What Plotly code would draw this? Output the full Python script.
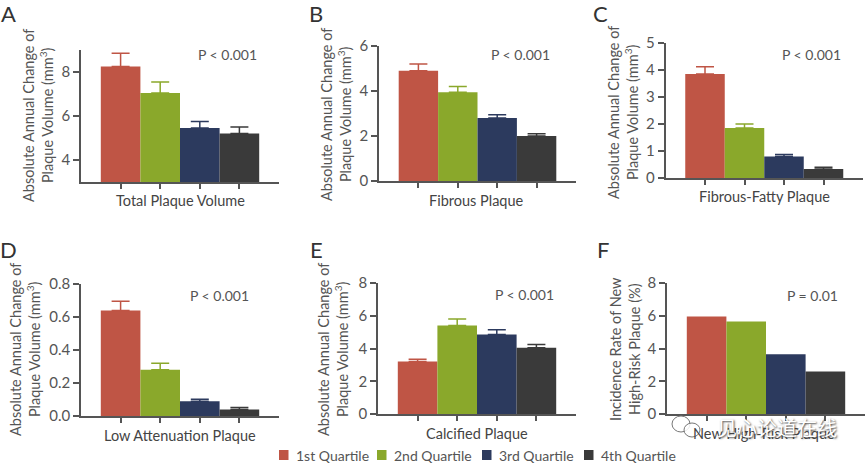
import plotly.graph_objects as go

W = 866
H = 464

quartiles = ["1st Quartile", "2nd Quartile", "3rd Quartile", "4th Quartile"]
colors = ["#BF5545", "#8AA82B", "#2C3A5E", "#3A3A3A"]

letters = ["A", "B", "C", "D", "E", "F"]
x_titles = ["Total Plaque Volume", "Fibrous Plaque", "Fibrous-Fatty Plaque",
            "Low Attenuation Plaque", "Calcified Plaque", "New High-Risk Plaque"]
abs_title = "Absolute Annual Change of<br>Plaque Volume (mm<sup>3</sup>)"
y_titles = [abs_title, abs_title, abs_title, abs_title, abs_title,
            "Incidence Rate of New<br>High-Risk Plaque (%)"]
p_texts = ["P < 0.001", "P < 0.001", "P < 0.001", "P < 0.001", "P < 0.001", "P = 0.01"]

values_a = [8.25, 7.05, 5.45, 5.2]
values_b = [4.9, 3.95, 2.8, 2.0]
values_c = [3.85, 1.85, 0.8, 0.33]
values_d = [0.64, 0.28, 0.09, 0.04]
values_e = [3.2, 5.4, 4.85, 4.05]
values_f = [5.95, 5.65, 3.65, 2.6]
values = [values_a, values_b, values_c, values_d, values_e, values_f]

err_a = [0.6, 0.5, 0.3, 0.3]
err_b = [0.3, 0.25, 0.15, 0.1]
err_c = [0.27, 0.15, 0.07, 0.07]
err_d = [0.055, 0.04, 0.012, 0.012]
err_e = [0.15, 0.4, 0.3, 0.2]
errs = [err_a, err_b, err_c, err_d, err_e, None]

y_ranges = [[3, 9], [0, 6], [0, 5], [0, 0.8], [0, 8], [0, 8]]
y_ticks = [[4, 6, 8], [0, 2, 4, 6], [0, 1, 2, 3, 4, 5],
           [0, 0.2, 0.4, 0.6, 0.8], [0, 2, 4, 6, 8], [0, 2, 4, 6, 8]]
y_ticklabels = [["4", "6", "8"], ["0", "2", "4", "6"], ["0", "1", "2", "3", "4", "5"],
                ["0.0", "0.2", "0.4", "0.6", "0.8"], ["0", "2", "4", "6", "8"], ["0", "2", "4", "6", "8"]]

# plot boxes in pixels: left, right, top, bottom
boxes = [(81, 279, 50, 182), (379, 576, 46, 181), (665.5, 863, 43, 178),
         (81, 279, 284, 416), (378, 576, 283, 414), (667, 865, 283, 414)]
p_pos = [(227, 55), (520, 55), (811, 55), (219, 295), (524, 294), (812, 295)]
title_x = [38, 336, 623, 25, 333, 625]
title_mid = [116, 115, 113, 350, 350, 349]
xtitle_pos = [(180, 200), (477, 200), (764, 197), (180, 435), (477, 433), (764, 433)]
letter_pos = [(8, 14), (316, 14), (600, 14), (8, 249), (316, 249), (603, 249)]
legend_x = [279, 377, 482, 584]
legend_y = 455

TXT = "#555555"
AX = "#555555"
FONT = "Lato"

fig = go.Figure()
annots = []
shapes = []


def px_x(v):
    return v / W


def px_y(v):
    return 1 - v / H


for i in range(6):
    n = "" if i == 0 else str(i + 1)
    l, r, t, b = boxes[i]
    for j in range(4):
        err = None
        if errs[i] is not None:
            err = dict(type="data", symmetric=False, array=[errs[i][j]], arrayminus=[0],
                       color=colors[j], thickness=1.5, width=9)
        fig.add_trace(go.Bar(x=[j], y=[values[i][j]], width=1, name=quartiles[j],
                             marker=dict(color=colors[j], line=dict(width=0)),
                             error_y=err, showlegend=False,
                             xaxis="x" + n, yaxis="y" + n))
    fig.update_layout({
        "xaxis" + n: dict(domain=[l / W, r / W], range=[-1, 4.0], anchor="y" + n,
                          tickvals=[0, 1, 2, 3], showticklabels=False, ticks="outside",
                          ticklen=5, tickwidth=1.5, tickcolor=AX, showgrid=False,
                          zeroline=False, showline=True, linecolor=AX, linewidth=1.5),
        "yaxis" + n: dict(domain=[1 - b / H, 1 - t / H], range=y_ranges[i], anchor="x" + n,
                          tickvals=y_ticks[i], ticktext=y_ticklabels[i], ticks="outside",
                          ticklen=6, tickwidth=1.5, tickcolor=AX, showgrid=False,
                          zeroline=False, showline=True, linecolor=AX, linewidth=1.5,
                          tickfont=dict(size=15, color=TXT, family=FONT)),
    })
    annots.append(dict(text=letters[i], x=px_x(letter_pos[i][0]), y=px_y(letter_pos[i][1]),
                       font=dict(size=22, color="#333333", family=FONT)))
    annots.append(dict(text=p_texts[i], x=px_x(p_pos[i][0]), y=px_y(p_pos[i][1]),
                       font=dict(size=14, color=TXT, family=FONT)))
    annots.append(dict(text=y_titles[i], x=px_x(title_x[i]), y=px_y(title_mid[i]), textangle=-90,
                       font=dict(size=14.5, color=TXT, family=FONT)))
    annots.append(dict(text=x_titles[i], x=px_x(xtitle_pos[i][0]), y=px_y(xtitle_pos[i][1]),
                       font=dict(size=14.5, color="#444444", family=FONT)))

# legend row under the panels
for j in range(4):
    shapes.append(dict(type="rect", xref="paper", yref="paper", line_width=0, fillcolor=colors[j],
                       x0=px_x(legend_x[j]), x1=px_x(legend_x[j] + 9.5),
                       y0=px_y(legend_y + 5), y1=px_y(legend_y - 5)))
    annots.append(dict(text=quartiles[j], x=px_x(legend_x[j] + 15), y=px_y(legend_y),
                       xanchor="left", font=dict(size=14, color=TXT, family=FONT)))

# watermark over panel F
for cx, cy, rx, ry in [(681, 424, 9, 8), (692, 430, 8, 7)]:
    shapes.append(dict(type="circle", xref="paper", yref="paper",
                       fillcolor="rgba(255,255,255,0.85)", line=dict(color="#777777", width=1),
                       x0=px_x(cx - rx), x1=px_x(cx + rx), y0=px_y(cy + ry), y1=px_y(cy - ry)))
annots.append(dict(text="见心论道在线", x=px_x(777), y=px_y(427),
                   font=dict(size=20, color="white", family="Noto Sans CJK SC",
                             shadow="1px 1px 2px #444444")))

for a in annots:
    a.setdefault("xanchor", "center")
    a.update(xref="paper", yref="paper", showarrow=False, yanchor="middle")

fig.update_layout(
    width=W, height=H, margin=dict(l=0, r=0, t=0, b=0, pad=0, autoexpand=False),
    paper_bgcolor="white", plot_bgcolor="white", barmode="overlay",
    annotations=annots, shapes=shapes, showlegend=False,
)

fig.write_html("out.html", config=dict(displayModeBar=False),
               post_script="document.body.style.margin='0';document.body.style.overflow='hidden';")
